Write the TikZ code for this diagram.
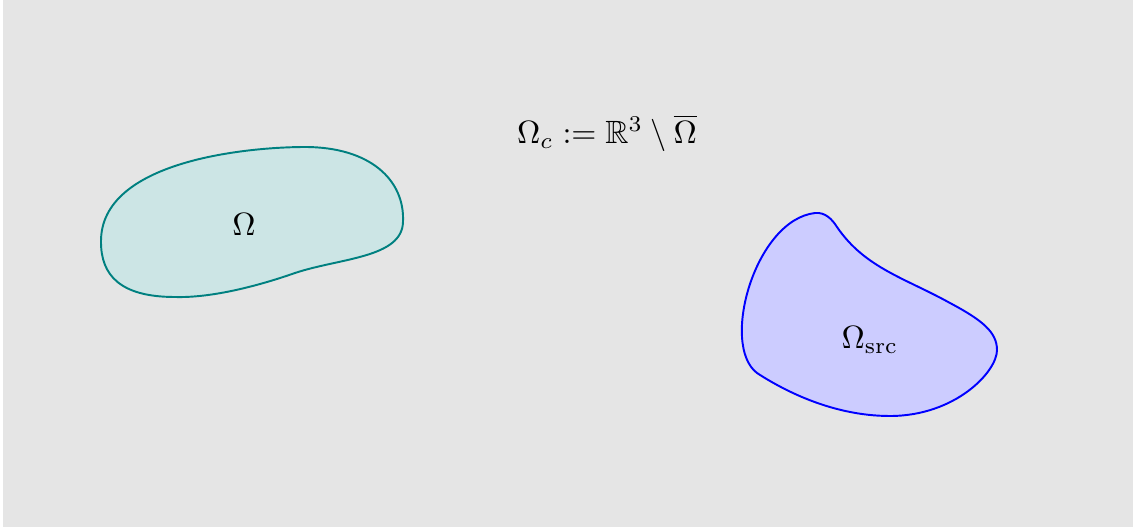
\documentclass[tikz,border=0pt]{standalone}
\usepackage{amssymb}
\begin{document}
\begin{tikzpicture}[x=0.3106pt,y=-0.3106pt,
  region/.style={line width=0.6pt},
  lbl/.style={inner sep=0pt}]
\useasboundingbox (0,0) rectangle (1133,529);
\fill[gray!20] (3,0) rectangle (1133,527);
% Omega
\draw[region,draw=teal,fill=teal!20]
  (101,242) .. controls (100,160) and (250,147) .. (305,147)
  .. controls (370,147) and (405,180) .. (403,222)
  .. controls (402,258) and (340,258) .. (295,273)
  .. controls (255,287) and (210,298) .. (175,297)
  .. controls (120,297) and (101,275) .. (101,242) -- cycle;
% Omega src
\draw[region,draw=blue,fill=blue!20]
  (837,227) .. controls (865,268) and (905,278) .. (950,303)
  .. controls (982,320) and (997,332) .. (997,350)
  .. controls (997,372) and (955,416) .. (890,416)
  .. controls (830,416) and (780,388) .. (757,373)
  .. controls (720,345) and (755,220) .. (815,213)
  .. controls (825,212) and (832,219) .. (837,227) -- cycle;
\node[lbl] (om) at (244,224) {$\Omega$};
\node[lbl] (src) at (870,340) {$\Omega_{\mathrm{src}}$};
\node[lbl] (def) at (607,133) {$\Omega_c := \mathbb{R}^3 \setminus \overline{\Omega}$};
\end{tikzpicture}
\end{document}
